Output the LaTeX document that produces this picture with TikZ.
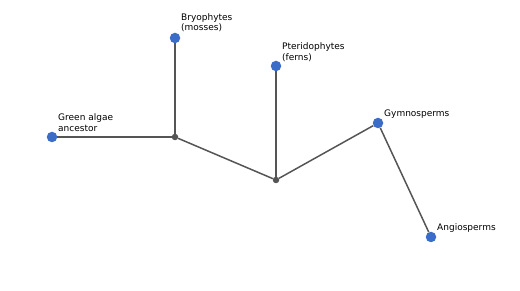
\documentclass[tikz,border=0pt]{standalone}
\usepackage{fontspec}
\setmainfont{DejaVu Sans}
\definecolor{leafblue}{RGB}{59,108,200}
\definecolor{edgegray}{RGB}{85,85,85}
\tikzset{
  leaf/.style={circle, fill=leafblue, inner sep=0pt, minimum size=10.5pt},
  junction/.style={circle, fill=edgegray, inner sep=0pt, minimum size=6.5pt},
  branch/.style={draw=edgegray, line width=1.5pt},
  lbl/.style={anchor=base west, inner sep=0pt, align=left, font=\fontsize{9}{10.5}\selectfont, text=black}
}
\begin{document}
\begin{tikzpicture}[x=1pt,y=-1pt]
\useasboundingbox (0,0) rectangle (520,291);
\node[junction] (j1) at (175,137) {};
\node[junction] (j2) at (276,180) {};
\node[leaf] (green) at (52,137) {};
\node[leaf] (bryo) at (175,38) {};
\node[leaf] (pter) at (276,66) {};
\node[leaf] (gymno) at (378,123) {};
\node[leaf] (angio) at (431,237) {};
\draw[branch] (green) -- (j1);
\draw[branch] (j1) -- (bryo);
\draw[branch] (j1) -- (j2);
\draw[branch] (j2) -- (pter);
\draw[branch] (j2) -- (gymno);
\draw[branch] (gymno) -- (angio);
\node[lbl] (tgreen) at (58,131.5) {Green algae\\ancestor};
\node[lbl] (tbryo) at (181,31) {Bryophytes\\(mosses)};
\node[lbl] (tpter) at (282,60.5) {Pteridophytes\\(ferns)};
\node[lbl] (tgymno) at (384,117) {Gymnosperms};
\node[lbl] (tangio) at (437,231) {Angiosperms};
\end{tikzpicture}
\end{document}
